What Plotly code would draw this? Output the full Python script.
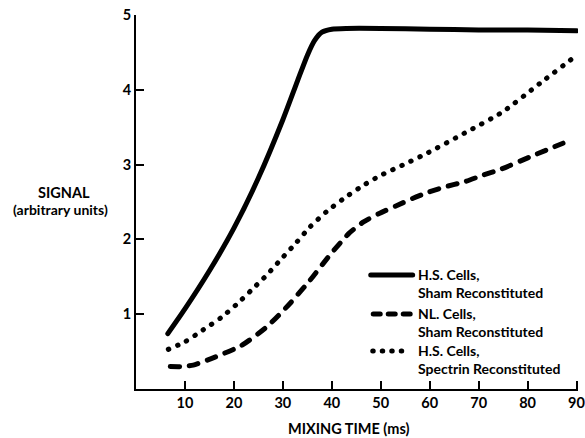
import plotly.graph_objects as go

# ---- data ----
solid_x = [6.5, 10, 15, 20, 25, 30, 33, 35, 36.5, 38, 40, 43, 50, 60, 70, 80, 90]
solid_y = [0.74, 1.07, 1.58, 2.15, 2.82, 3.60, 4.12, 4.46, 4.66, 4.77, 4.81, 4.82, 4.82, 4.81, 4.80, 4.80, 4.79]

dot_x = [6.6, 10, 13.7, 17.5, 20.7, 23.7, 26.8, 29.7, 32.8, 35.6, 38.9, 42.3, 45.9, 49.8, 55, 59.7, 67.1, 74.8, 82.4, 89.6]
dot_y = [0.53, 0.63, 0.79, 0.96, 1.14, 1.33, 1.53, 1.74, 1.96, 2.17, 2.37, 2.54, 2.70, 2.85, 3.01, 3.16, 3.42, 3.70, 4.08, 4.44]

dash_x = [7, 9.5, 11.7, 15.5, 21.5, 26.7, 31.4, 35.5, 39.6, 43.5, 46.4, 49.8, 53.2, 56.6, 59.7, 63, 67.1, 70.5, 74.6, 81.1, 88.5]
dash_y = [0.30, 0.30, 0.32, 0.41, 0.58, 0.83, 1.14, 1.45, 1.79, 2.08, 2.23, 2.35, 2.45, 2.55, 2.63, 2.70, 2.77, 2.85, 2.94, 3.12, 3.32]

x_ticks = [10, 20, 30, 40, 50, 60, 70, 80, 90]
y_ticks = [1, 2, 3, 4, 5]

series_names = ["H.S. Cells,<br>Sham Reconstituted",
                "NL. Cells,<br>Sham Reconstituted",
                "H.S. Cells,<br>Spectrin Reconstituted"]

FONT = "Lato"
W, H = 585, 438
L, R, T, B = 136, 6.5, 15, 49

fig = go.Figure()
fig.add_trace(go.Scatter(x=solid_x, y=solid_y, mode="lines",
                         line=dict(color="black", width=5, shape="spline", smoothing=0.6)))
fig.add_trace(go.Scatter(x=dash_x, y=dash_y, mode="lines",
                         line=dict(color="black", width=5, dash="9px,10px", shape="spline", smoothing=0.6)))
fig.add_trace(go.Scatter(x=dot_x, y=dot_y, mode="lines",
                         line=dict(color="black", width=5, dash="0.5px,9.5px", shape="spline", smoothing=0.6)))

pw = W - L - R
ph = H - T - B
def px(xp):
    return (xp - L) / pw
def py(yp):
    return (H - B - yp) / ph

# legend (manual)
leg = [
    (275, None, 371, 413),
    (314, "7px,8px", 373.5, 410.5),
    (351, "0.5px,9px", 373, 410),
]
for (yy, dash, x0, x1), name in zip(leg, series_names):
    ln = dict(color="black", width=5)
    if dash:
        ln["dash"] = dash
    fig.add_shape(type="line", xref="paper", yref="paper",
                  x0=px(x0), x1=px(x1), y0=py(yy), y1=py(yy), line=ln)
    fig.add_annotation(xref="paper", yref="paper", x=px(417), y=py(yy + 8),
                       xanchor="left", yanchor="middle", align="left", showarrow=False,
                       borderpad=0, text=name,
                       font=dict(family=FONT, size=14, color="black", weight="bold"))

# axis titles
fig.add_annotation(xref="paper", yref="paper", x=px(64), y=py(192), xanchor="center", yanchor="middle",
                   showarrow=False, borderpad=0, text="SIGNAL",
                   font=dict(family=FONT, size=14.5, color="black", weight="bold"))
fig.add_annotation(xref="paper", yref="paper", x=px(60), y=py(209), xanchor="center", yanchor="middle",
                   showarrow=False, borderpad=0, text="(arbitrary units)",
                   font=dict(family=FONT, size=14, color="black", weight="bold"))
fig.add_annotation(xref="paper", yref="paper", x=px(349), y=py(428), xanchor="center", yanchor="middle",
                   showarrow=False, borderpad=0, text="MIXING TIME (ms)",
                   font=dict(family=FONT, size=14.5, color="black", weight="bold"))

fig.update_layout(
    width=W, height=H, margin=dict(l=L, r=R, t=T, b=B),
    paper_bgcolor="white", plot_bgcolor="white", showlegend=False,
    font=dict(family=FONT, size=14.5, color="black", weight="bold"),
    xaxis=dict(range=[0, 90.3], tickvals=x_ticks, ticks="inside", ticklen=8, tickwidth=2,
               tickcolor="black", showline=True, linecolor="black", linewidth=2,
               showgrid=False, zeroline=False, mirror=False, automargin=False,
               ticklabeloverflow="allow"),
    yaxis=dict(range=[0, 5], tickvals=y_ticks, ticks="inside", ticklen=8, tickwidth=2,
               tickcolor="black", showline=True, linecolor="black", linewidth=2,
               showgrid=False, zeroline=False, automargin=False, ticklabeloverflow="allow"),
)

post = """
document.documentElement.style.margin='0';
document.body.style.margin='0';
document.body.style.padding='0';
var gd = document.getElementById('{plot_id}');
function rc(){
  gd.querySelectorAll('.scatterlayer path.js-line, .layer-above path, .shapelayer path').forEach(function(p){
    p.style.strokeLinecap='round'; p.style.strokeLinejoin='round';
  });
}
rc();
gd.on('plotly_afterplot', rc);
"""
fig.write_html("out.html", post_script=post, config={"displayModeBar": False})
